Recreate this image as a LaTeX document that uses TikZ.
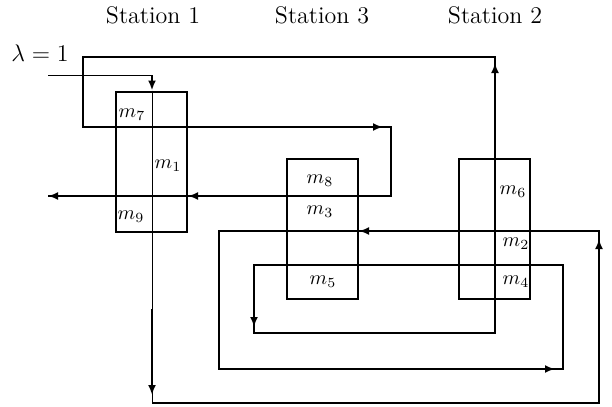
\documentclass[tikz,border=0pt]{standalone}
\usepackage{amsmath}
\usetikzlibrary{positioning,arrows.meta,calc}
\tikzset{
  stationbox/.style={draw, line width=1pt, minimum width=35.5pt, minimum height=70pt, inner sep=0pt},
  flow/.style={line width=1pt},
  thinflow/.style={line width=0.5pt},
  tip/.style={-{Latex[length=5pt,width=4pt]}},
  buf/.style={inner sep=1pt},
  head/.style={font=\large},
}

\begin{document}
\begin{tikzpicture}[x=0.5pt, y=-0.5pt]
\useasboundingbox (0,0) rectangle (612,407);
% stations
\node[stationbox] (s1) at (151.5,161.5) {};
\node[stationbox] (s3) at (322.5,229) {};
\node[stationbox] (s2) at (494.5,229) {};
\node[head] (h1) at (153,15) {Station 1};
\node[head] (h3) at (322,15) {Station 3};
\node[head] (h2) at (495,15) {Station 2};
% buffers
\node[buf] (m7) at (132,115) {$m_7$};
\node[buf] (m1) at (168,166) {$m_1$};
\node[buf] (m9) at (131,217) {$m_9$};
\node[buf] (m8) at (320,181) {$m_8$};
\node[buf] (m3) at (320,212) {$m_3$};
\node[buf] (m5) at (323,282) {$m_5$};
\node[buf] (m6) at (513,192) {$m_6$};
\node[buf] (m2) at (516,244) {$m_2$};
\node[buf] (m4) at (516,282) {$m_4$};
% route corners
\coordinate (lam) at (48,75);
\node[anchor=south, font=\large] (lamtext) at (40,69) {$\lambda = 1$};
\coordinate (bl) at (152,403);
\coordinate (br) at (599,403);
\coordinate (rt) at (599,231);
\coordinate (lo) at (219,231);
\coordinate (lb) at (219,369);
\coordinate (rb) at (563,369);
\coordinate (ri) at (563,265);
\coordinate (li) at (254,265);
\coordinate (lib) at (254,333);
\coordinate (c2b) at (495,333);
\coordinate (c2t) at (495,57);
\coordinate (tl) at (83,57);
\coordinate (ml) at (83,127);
\coordinate (mr) at (391,127);
\coordinate (mrb) at (391,196);
\coordinate (out) at (48,196);
% arrival
\draw[thinflow] (lam) -- (lam -| bl);
\draw[flow, tip] (lam -| bl) -- (bl |- s1.north);
% station 1 down to the bottom
\draw[thinflow] (bl |- s1.north) -- (bl);
\draw[flow, tip, shorten >=4pt] ($(bl |- s1.south)!0.45!(bl)$) -- (bl);
% the re-entrant route
\draw[flow] (bl) -- (br) -- (rt) -- (lo) -- (lb) -- (rb) -- (ri) -- (li) -- (lib)
  -- (c2b) -- (c2t) -- (tl) -- (ml) -- (mr) -- (mrb) -- (out);
\draw[flow, tip, shorten >=4pt] (br) -- (rt);
\draw[flow, tip] (rt) -- (rt -| s3.east);
\draw[flow, tip, shorten >=4pt] (lb) -- (rb);
\draw[flow, tip, shorten >=3pt] (li) -- (lib);
\draw[flow, tip, shorten >=3pt] (c2b) -- (c2t);
\draw[flow, tip, shorten >=4pt] (ml) -- (mr);
\draw[flow, tip] (mrb) -- (mrb -| s1.east);
\draw[flow, tip] (mrb) -- (out);
\end{tikzpicture}
\end{document}
